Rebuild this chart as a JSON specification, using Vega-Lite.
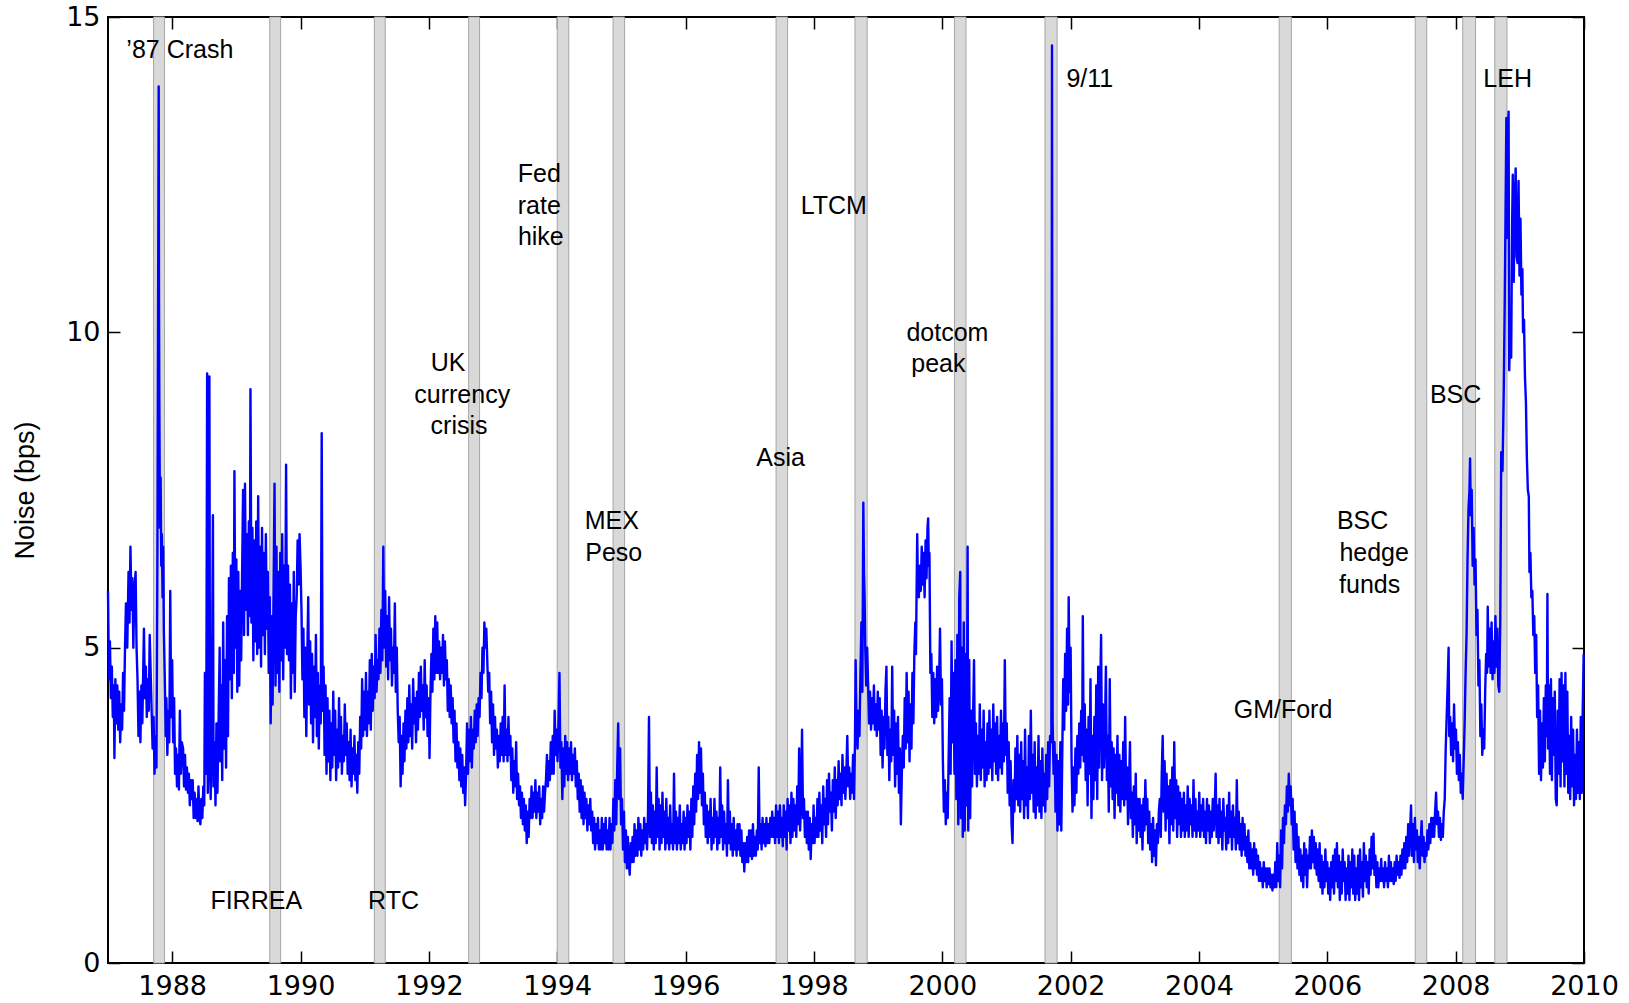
{
"$schema":"https://vega.github.io/schema/vega-lite/v6.json",
"width":1476,"height":946,
"autosize":{"type":"none"},
"padding":{"left":108,"top":17,"right":45,"bottom":40},
"background":"#ffffff",
"config":{
 "view":{"stroke":"#000000","strokeWidth":2},
 "axis":{"grid":false,"domain":false,"ticks":true,"tickColor":"#000000","tickWidth":1.5,"tickSize":-12,"labelColor":"#000000","labelFont":"DejaVu Sans","labelFontSize":27,"titleFont":"Liberation Sans","titleFontSize":27,"titleFontWeight":"normal","titleColor":"#000000","labelFlush":false,"labelOverlap":false}
},
"datasets":{
"b":[{"a":1987.71,"e":1987.88},{"a":1989.52,"e":1989.69},{"a":1991.15,"e":1991.32},{"a":1992.62,"e":1992.79},{"a":1994.00,"e":1994.18},{"a":1994.87,"e":1995.05},{"a":1997.41,"e":1997.59},{"a":1998.64,"e":1998.83},{"a":2000.19,"e":2000.37},{"a":2001.60,"e":2001.79},{"a":2005.25,"e":2005.44},{"a":2007.37,"e":2007.55},{"a":2008.11,"e":2008.31},{"a":2008.61,"e":2008.80}],
"l":[{"t":1988.12,"v":14.48,"s":"’87 Crash"},{"t":1989.31,"v":0.98,"s":"FIRREA"},{"t":1991.45,"v":0.98,"s":"RTC"},{"t":1992.30,"v":9.51,"s":"UK"},{"t":1992.52,"v":9.0,"s":"currency"},{"t":1992.47,"v":8.51,"s":"crisis"},{"t":1993.72,"v":12.51,"s":"Fed"},{"t":1993.72,"v":12.0,"s":"rate"},{"t":1993.745,"v":11.51,"s":"hike"},{"t":1994.85,"v":7.01,"s":"MEX"},{"t":1994.88,"v":6.5,"s":"Peso"},{"t":1997.48,"v":8.0,"s":"Asia"},{"t":1998.31,"v":12.0,"s":"LTCM"},{"t":2000.08,"v":9.99,"s":"dotcom"},{"t":1999.94,"v":9.5,"s":"peak"},{"t":2002.30,"v":14.01,"s":"9/11"},{"t":2005.31,"v":4.01,"s":"GM/Ford"},{"t":2006.55,"v":7.01,"s":"BSC"},{"t":2006.73,"v":6.5,"s":"hedge"},{"t":2006.66,"v":6.0,"s":"funds"},{"t":2008.0,"v":9.0,"s":"BSC"},{"t":2008.81,"v":14.01,"s":"LEH"}],
"s":[
{"t":1987.00,"v":5.9},{"t":1987.015,"v":4.5},{"t":1987.03,"v":5.1},{"t":1987.045,"v":4.2},{"t":1987.06,"v":4.7},{"t":1987.075,"v":3.9},{"t":1987.09,"v":4.4},{"t":1987.10,"v":3.25},{"t":1987.115,"v":4.5},{"t":1987.13,"v":3.8},{"t":1987.145,"v":4.4},{"t":1987.16,"v":3.7},{"t":1987.175,"v":4.3},{"t":1987.19,"v":3.5},{"t":1987.205,"v":4.1},{"t":1987.22,"v":3.7},{"t":1987.235,"v":4.6},{"t":1987.25,"v":4.0},{"t":1987.265,"v":5.0},{"t":1987.28,"v":5.7},{"t":1987.30,"v":5.0},{"t":1987.32,"v":6.2},{"t":1987.335,"v":5.4},{"t":1987.35,"v":6.6},{"t":1987.365,"v":5.6},{"t":1987.38,"v":6.1},{"t":1987.395,"v":5.0},{"t":1987.41,"v":5.9},{"t":1987.43,"v":6.2},{"t":1987.445,"v":5.0},{"t":1987.46,"v":4.5},{"t":1987.475,"v":3.6},{"t":1987.49,"v":4.3},{"t":1987.505,"v":3.5},{"t":1987.52,"v":4.4},{"t":1987.535,"v":3.8},{"t":1987.56,"v":5.3},{"t":1987.575,"v":4.2},{"t":1987.59,"v":4.7},{"t":1987.605,"v":3.9},{"t":1987.62,"v":4.5},{"t":1987.635,"v":4.0},{"t":1987.65,"v":5.2},{"t":1987.68,"v":4.0},{"t":1987.695,"v":3.4},{"t":1987.71,"v":3.9},{"t":1987.725,"v":3.0},{"t":1987.74,"v":3.6},{"t":1987.755,"v":3.1},{"t":1987.77,"v":6.5},{"t":1987.79,"v":13.9},{"t":1987.795,"v":10.5},{"t":1987.80,"v":8.9},{"t":1987.81,"v":6.9},{"t":1987.82,"v":7.7},{"t":1987.83,"v":6.3},{"t":1987.84,"v":6.8},{"t":1987.85,"v":5.8},{"t":1987.86,"v":6.6},{"t":1987.87,"v":5.3},{"t":1987.885,"v":4.5},{"t":1987.90,"v":3.6},{"t":1987.91,"v":4.2},{"t":1987.925,"v":3.3},{"t":1987.94,"v":4.0},{"t":1987.955,"v":3.5},{"t":1987.97,"v":5.9},{"t":1987.985,"v":3.9},{"t":1988.00,"v":4.8},{"t":1988.015,"v":3.5},{"t":1988.03,"v":4.2},{"t":1988.045,"v":3.0},{"t":1988.06,"v":3.4},{"t":1988.075,"v":2.8},{"t":1988.09,"v":3.3},{"t":1988.105,"v":2.75},{"t":1988.12,"v":4.0},{"t":1988.135,"v":3.0},{"t":1988.15,"v":3.5},{"t":1988.17,"v":3.4},{"t":1988.185,"v":2.8},{"t":1988.20,"v":3.3},{"t":1988.215,"v":2.75},{"t":1988.23,"v":3.1},{"t":1988.245,"v":2.7},{"t":1988.26,"v":3.0},{"t":1988.275,"v":2.5},{"t":1988.29,"v":2.9},{"t":1988.305,"v":2.6},{"t":1988.32,"v":2.9},{"t":1988.335,"v":2.3},{"t":1988.35,"v":2.7},{"t":1988.365,"v":2.3},{"t":1988.38,"v":2.6},{"t":1988.395,"v":2.25},{"t":1988.41,"v":2.8},{"t":1988.425,"v":2.3},{"t":1988.44,"v":2.2},{"t":1988.455,"v":2.6},{"t":1988.47,"v":2.3},{"t":1988.485,"v":2.8},{"t":1988.50,"v":2.5},{"t":1988.51,"v":4.6},{"t":1988.53,"v":3.0},{"t":1988.545,"v":9.35},{"t":1988.555,"v":2.7},{"t":1988.565,"v":3.3},{"t":1988.58,"v":9.3},{"t":1988.59,"v":3.3},{"t":1988.60,"v":2.6},{"t":1988.615,"v":3.4},{"t":1988.635,"v":7.1},{"t":1988.645,"v":2.8},{"t":1988.66,"v":3.5},{"t":1988.675,"v":2.5},{"t":1988.69,"v":3.8},{"t":1988.705,"v":2.7},{"t":1988.72,"v":3.6},{"t":1988.74,"v":5.0},{"t":1988.75,"v":3.2},{"t":1988.765,"v":4.4},{"t":1988.78,"v":2.9},{"t":1988.795,"v":5.4},{"t":1988.81,"v":3.4},{"t":1988.825,"v":4.8},{"t":1988.84,"v":3.1},{"t":1988.855,"v":5.5},{"t":1988.87,"v":3.6},{"t":1988.885,"v":6.1},{"t":1988.90,"v":4.5},{"t":1988.915,"v":6.3},{"t":1988.93,"v":4.2},{"t":1988.945,"v":6.5},{"t":1988.96,"v":4.6},{"t":1988.97,"v":7.8},{"t":1988.985,"v":5.0},{"t":1989.00,"v":6.4},{"t":1989.015,"v":4.3},{"t":1989.03,"v":6.2},{"t":1989.045,"v":4.4},{"t":1989.06,"v":5.9},{"t":1989.075,"v":4.8},{"t":1989.09,"v":6.2},{"t":1989.105,"v":7.5},{"t":1989.12,"v":5.2},{"t":1989.135,"v":7.6},{"t":1989.15,"v":5.6},{"t":1989.165,"v":6.8},{"t":1989.18,"v":5.2},{"t":1989.195,"v":7.0},{"t":1989.21,"v":5.5},{"t":1989.22,"v":9.1},{"t":1989.235,"v":5.4},{"t":1989.25,"v":6.9},{"t":1989.265,"v":4.8},{"t":1989.28,"v":6.7},{"t":1989.295,"v":5.1},{"t":1989.31,"v":7.0},{"t":1989.325,"v":4.9},{"t":1989.34,"v":7.4},{"t":1989.355,"v":5.0},{"t":1989.37,"v":6.6},{"t":1989.385,"v":4.7},{"t":1989.40,"v":6.9},{"t":1989.415,"v":5.2},{"t":1989.43,"v":6.5},{"t":1989.445,"v":4.9},{"t":1989.46,"v":6.8},{"t":1989.475,"v":5.3},{"t":1989.49,"v":6.2},{"t":1989.505,"v":4.6},{"t":1989.52,"v":5.8},{"t":1989.535,"v":3.8},{"t":1989.55,"v":5.5},{"t":1989.565,"v":4.1},{"t":1989.58,"v":5.9},{"t":1989.595,"v":7.6},{"t":1989.61,"v":4.4},{"t":1989.625,"v":6.6},{"t":1989.64,"v":4.6},{"t":1989.655,"v":6.2},{"t":1989.67,"v":4.3},{"t":1989.685,"v":6.5},{"t":1989.70,"v":4.8},{"t":1989.715,"v":6.8},{"t":1989.73,"v":4.5},{"t":1989.745,"v":6.3},{"t":1989.76,"v":5.0},{"t":1989.775,"v":7.9},{"t":1989.79,"v":4.9},{"t":1989.805,"v":6.3},{"t":1989.82,"v":4.8},{"t":1989.835,"v":6.0},{"t":1989.85,"v":4.2},{"t":1989.865,"v":5.7},{"t":1989.88,"v":4.6},{"t":1989.895,"v":6.2},{"t":1989.91,"v":4.3},{"t":1989.925,"v":5.5},{"t":1989.94,"v":5.8},{"t":1989.955,"v":6.7},{"t":1989.97,"v":6.0},{"t":1989.985,"v":6.8},{"t":1990.00,"v":6.3},{"t":1990.015,"v":5.6},{"t":1990.03,"v":4.5},{"t":1990.045,"v":5.3},{"t":1990.06,"v":3.9},{"t":1990.075,"v":5.0},{"t":1990.09,"v":3.6},{"t":1990.105,"v":4.8},{"t":1990.12,"v":5.8},{"t":1990.135,"v":4.1},{"t":1990.15,"v":5.1},{"t":1990.165,"v":3.8},{"t":1990.18,"v":4.9},{"t":1990.195,"v":3.5},{"t":1990.21,"v":4.7},{"t":1990.225,"v":3.9},{"t":1990.24,"v":5.2},{"t":1990.255,"v":3.6},{"t":1990.27,"v":4.6},{"t":1990.285,"v":3.4},{"t":1990.30,"v":4.4},{"t":1990.315,"v":3.8},{"t":1990.33,"v":8.4},{"t":1990.345,"v":4.0},{"t":1990.36,"v":4.7},{"t":1990.375,"v":3.3},{"t":1990.39,"v":4.4},{"t":1990.405,"v":3.0},{"t":1990.42,"v":4.2},{"t":1990.435,"v":3.2},{"t":1990.45,"v":4.0},{"t":1990.465,"v":2.9},{"t":1990.48,"v":3.8},{"t":1990.495,"v":3.1},{"t":1990.51,"v":4.3},{"t":1990.525,"v":3.3},{"t":1990.54,"v":4.0},{"t":1990.555,"v":2.9},{"t":1990.57,"v":3.7},{"t":1990.585,"v":3.1},{"t":1990.60,"v":4.2},{"t":1990.615,"v":3.2},{"t":1990.63,"v":3.9},{"t":1990.645,"v":3.0},{"t":1990.66,"v":3.6},{"t":1990.675,"v":3.2},{"t":1990.69,"v":4.1},{"t":1990.705,"v":3.3},{"t":1990.72,"v":3.8},{"t":1990.735,"v":3.0},{"t":1990.75,"v":3.5},{"t":1990.765,"v":2.9},{"t":1990.78,"v":3.7},{"t":1990.795,"v":2.8},{"t":1990.81,"v":3.4},{"t":1990.825,"v":3.0},{"t":1990.84,"v":3.6},{"t":1990.855,"v":2.9},{"t":1990.87,"v":3.3},{"t":1990.885,"v":2.7},{"t":1990.90,"v":3.5},{"t":1990.915,"v":3.0},{"t":1990.93,"v":3.9},{"t":1990.945,"v":3.4},{"t":1990.96,"v":4.5},{"t":1990.975,"v":3.6},{"t":1990.99,"v":4.3},{"t":1991.005,"v":3.7},{"t":1991.02,"v":4.6},{"t":1991.035,"v":3.6},{"t":1991.05,"v":4.3},{"t":1991.065,"v":3.8},{"t":1991.08,"v":4.8},{"t":1991.095,"v":3.7},{"t":1991.11,"v":4.9},{"t":1991.125,"v":4.0},{"t":1991.14,"v":4.7},{"t":1991.155,"v":4.2},{"t":1991.17,"v":5.2},{"t":1991.185,"v":4.3},{"t":1991.20,"v":4.8},{"t":1991.215,"v":4.5},{"t":1991.23,"v":5.3},{"t":1991.245,"v":4.6},{"t":1991.26,"v":5.6},{"t":1991.275,"v":4.8},{"t":1991.29,"v":6.6},{"t":1991.305,"v":5.0},{"t":1991.32,"v":5.9},{"t":1991.335,"v":4.7},{"t":1991.35,"v":5.5},{"t":1991.365,"v":4.5},{"t":1991.38,"v":5.8},{"t":1991.395,"v":4.8},{"t":1991.41,"v":5.3},{"t":1991.425,"v":4.4},{"t":1991.44,"v":5.0},{"t":1991.455,"v":4.6},{"t":1991.47,"v":5.7},{"t":1991.485,"v":4.3},{"t":1991.50,"v":5.0},{"t":1991.515,"v":4.0},{"t":1991.53,"v":3.5},{"t":1991.545,"v":3.9},{"t":1991.56,"v":2.8},{"t":1991.575,"v":3.6},{"t":1991.59,"v":3.0},{"t":1991.605,"v":3.8},{"t":1991.62,"v":3.2},{"t":1991.635,"v":4.0},{"t":1991.65,"v":3.4},{"t":1991.665,"v":4.2},{"t":1991.68,"v":3.5},{"t":1991.695,"v":4.4},{"t":1991.71,"v":3.6},{"t":1991.725,"v":4.1},{"t":1991.74,"v":3.4},{"t":1991.755,"v":4.5},{"t":1991.77,"v":3.8},{"t":1991.785,"v":4.2},{"t":1991.80,"v":3.5},{"t":1991.815,"v":4.3},{"t":1991.83,"v":3.7},{"t":1991.845,"v":4.6},{"t":1991.86,"v":3.9},{"t":1991.875,"v":4.7},{"t":1991.89,"v":4.0},{"t":1991.905,"v":4.4},
{"t":1991.92,"v":3.7},{"t":1991.935,"v":4.8},{"t":1991.95,"v":3.9},{"t":1991.965,"v":4.4},{"t":1991.98,"v":3.6},{"t":1992.00,"v":4.2},{"t":1992.01,"v":3.25},{"t":1992.025,"v":4.3},{"t":1992.04,"v":4.9},{"t":1992.055,"v":4.3},{"t":1992.07,"v":5.3},{"t":1992.085,"v":4.5},{"t":1992.10,"v":5.5},{"t":1992.115,"v":4.6},{"t":1992.13,"v":5.4},{"t":1992.145,"v":4.6},{"t":1992.16,"v":5.1},{"t":1992.175,"v":4.5},{"t":1992.19,"v":5.0},{"t":1992.205,"v":4.6},{"t":1992.22,"v":5.2},{"t":1992.235,"v":4.4},{"t":1992.25,"v":5.1},{"t":1992.265,"v":4.5},{"t":1992.28,"v":4.8},{"t":1992.295,"v":4.0},{"t":1992.31,"v":4.5},{"t":1992.325,"v":3.9},{"t":1992.34,"v":4.4},{"t":1992.355,"v":3.8},{"t":1992.37,"v":4.2},{"t":1992.385,"v":3.5},{"t":1992.40,"v":4.0},{"t":1992.415,"v":3.2},{"t":1992.43,"v":3.8},{"t":1992.445,"v":3.1},{"t":1992.46,"v":3.5},{"t":1992.475,"v":2.9},{"t":1992.49,"v":3.4},{"t":1992.505,"v":2.8},{"t":1992.52,"v":3.3},{"t":1992.535,"v":2.7},{"t":1992.55,"v":3.1},{"t":1992.565,"v":2.5},{"t":1992.58,"v":3.0},{"t":1992.595,"v":3.8},{"t":1992.61,"v":3.0},{"t":1992.625,"v":3.7},{"t":1992.64,"v":3.2},{"t":1992.655,"v":3.9},{"t":1992.67,"v":3.1},{"t":1992.685,"v":3.7},{"t":1992.70,"v":3.4},{"t":1992.715,"v":4.0},{"t":1992.73,"v":3.5},{"t":1992.745,"v":4.1},{"t":1992.76,"v":3.6},{"t":1992.775,"v":4.2},{"t":1992.79,"v":3.9},{"t":1992.805,"v":4.6},{"t":1992.82,"v":4.2},{"t":1992.835,"v":5.0},{"t":1992.85,"v":4.6},{"t":1992.865,"v":5.4},{"t":1992.88,"v":5.0},{"t":1992.895,"v":5.3},{"t":1992.91,"v":4.8},{"t":1992.925,"v":4.3},{"t":1992.94,"v":4.6},{"t":1992.955,"v":3.8},{"t":1992.97,"v":4.3},{"t":1992.985,"v":3.5},{"t":1993.00,"v":4.1},{"t":1993.015,"v":3.3},{"t":1993.03,"v":3.9},{"t":1993.045,"v":3.4},{"t":1993.06,"v":3.7},{"t":1993.075,"v":3.1},{"t":1993.09,"v":3.6},{"t":1993.105,"v":3.2},{"t":1993.12,"v":3.8},{"t":1993.135,"v":3.3},{"t":1993.15,"v":3.9},{"t":1993.165,"v":3.2},{"t":1993.18,"v":4.4},{"t":1993.195,"v":3.3},{"t":1993.21,"v":3.7},{"t":1993.225,"v":3.2},{"t":1993.24,"v":3.9},{"t":1993.255,"v":3.3},{"t":1993.27,"v":3.6},{"t":1993.285,"v":2.9},{"t":1993.30,"v":3.4},{"t":1993.315,"v":2.7},{"t":1993.33,"v":3.2},{"t":1993.345,"v":2.8},{"t":1993.36,"v":3.5},{"t":1993.375,"v":2.6},{"t":1993.39,"v":3.0},{"t":1993.405,"v":2.5},{"t":1993.42,"v":2.8},{"t":1993.435,"v":2.3},{"t":1993.45,"v":2.7},{"t":1993.465,"v":2.2},{"t":1993.48,"v":2.6},{"t":1993.495,"v":2.1},{"t":1993.51,"v":2.5},{"t":1993.525,"v":1.9},{"t":1993.54,"v":2.4},{"t":1993.555,"v":2.0},{"t":1993.57,"v":2.6},{"t":1993.585,"v":2.3},{"t":1993.60,"v":2.8},{"t":1993.615,"v":2.3},{"t":1993.63,"v":2.7},{"t":1993.645,"v":2.4},{"t":1993.66,"v":2.9},{"t":1993.675,"v":2.3},{"t":1993.69,"v":2.7},{"t":1993.705,"v":2.4},{"t":1993.72,"v":2.8},{"t":1993.735,"v":2.2},{"t":1993.75,"v":2.6},{"t":1993.765,"v":2.3},{"t":1993.78,"v":2.8},{"t":1993.795,"v":2.4},{"t":1993.81,"v":2.7},{"t":1993.825,"v":2.9},{"t":1993.84,"v":3.3},{"t":1993.855,"v":2.8},{"t":1993.87,"v":3.2},{"t":1993.885,"v":2.9},{"t":1993.90,"v":3.5},{"t":1993.915,"v":3.0},{"t":1993.93,"v":3.6},{"t":1993.945,"v":3.0},{"t":1993.96,"v":4.0},{"t":1993.975,"v":3.3},{"t":1993.99,"v":3.7},{"t":1994.005,"v":3.2},{"t":1994.02,"v":3.8},{"t":1994.035,"v":4.6},{"t":1994.05,"v":3.1},{"t":1994.065,"v":3.5},{"t":1994.08,"v":2.6},{"t":1994.095,"v":3.4},{"t":1994.11,"v":2.8},{"t":1994.125,"v":3.6},{"t":1994.14,"v":3.0},{"t":1994.155,"v":3.5},{"t":1994.17,"v":2.9},{"t":1994.185,"v":3.4},{"t":1994.20,"v":3.0},{"t":1994.215,"v":3.5},{"t":1994.23,"v":2.9},{"t":1994.245,"v":3.3},{"t":1994.26,"v":3.0},{"t":1994.275,"v":3.4},{"t":1994.29,"v":2.8},{"t":1994.305,"v":3.2},{"t":1994.32,"v":2.6},{"t":1994.335,"v":3.0},{"t":1994.35,"v":2.4},{"t":1994.365,"v":2.9},{"t":1994.38,"v":2.3},{"t":1994.395,"v":2.8},{"t":1994.41,"v":2.2},{"t":1994.425,"v":2.7},{"t":1994.44,"v":2.3},{"t":1994.455,"v":2.6},{"t":1994.47,"v":2.1},{"t":1994.485,"v":2.5},{"t":1994.50,"v":2.2},{"t":1994.515,"v":2.6},{"t":1994.53,"v":2.1},{"t":1994.545,"v":2.4},{"t":1994.56,"v":1.9},{"t":1994.575,"v":2.3},{"t":1994.59,"v":1.8},{"t":1994.605,"v":2.2},{"t":1994.62,"v":1.9},{"t":1994.635,"v":2.3},{"t":1994.65,"v":1.8},{"t":1994.665,"v":2.1},{"t":1994.68,"v":1.8},{"t":1994.695,"v":2.3},{"t":1994.71,"v":1.8},{"t":1994.725,"v":2.2},{"t":1994.74,"v":1.9},{"t":1994.755,"v":2.3},{"t":1994.77,"v":1.8},{"t":1994.785,"v":2.1},{"t":1994.80,"v":1.8},{"t":1994.815,"v":2.3},{"t":1994.83,"v":1.8},{"t":1994.845,"v":2.2},{"t":1994.86,"v":1.9},{"t":1994.875,"v":2.6},{"t":1994.89,"v":2.1},{"t":1994.905,"v":2.9},{"t":1994.92,"v":2.2},{"t":1994.935,"v":3.1},{"t":1994.95,"v":3.8},{"t":1994.965,"v":2.6},{"t":1994.98,"v":3.4},{"t":1994.995,"v":2.2},{"t":1995.01,"v":2.6},{"t":1995.025,"v":1.8},{"t":1995.04,"v":2.4},{"t":1995.055,"v":1.6},{"t":1995.07,"v":2.1},{"t":1995.085,"v":1.5},{"t":1995.10,"v":2.0},{"t":1995.115,"v":1.6},{"t":1995.13,"v":1.4},{"t":1995.145,"v":1.9},{"t":1995.16,"v":1.6},{"t":1995.175,"v":2.0},{"t":1995.19,"v":1.6},{"t":1995.205,"v":2.2},{"t":1995.22,"v":1.7},{"t":1995.235,"v":2.1},{"t":1995.25,"v":1.7},{"t":1995.265,"v":2.3},{"t":1995.28,"v":1.8},{"t":1995.295,"v":2.2},{"t":1995.31,"v":1.7},{"t":1995.325,"v":2.1},{"t":1995.34,"v":1.8},{"t":1995.355,"v":2.3},{"t":1995.37,"v":1.9},{"t":1995.385,"v":2.2},{"t":1995.40,"v":1.8},{"t":1995.415,"v":2.4},{"t":1995.43,"v":3.9},{"t":1995.445,"v":2.0},{"t":1995.46,"v":2.7},{"t":1995.475,"v":1.9},{"t":1995.49,"v":2.5},{"t":1995.505,"v":1.8},{"t":1995.52,"v":2.4},{"t":1995.535,"v":1.9},{"t":1995.55,"v":3.1},{"t":1995.565,"v":2.0},{"t":1995.58,"v":2.6},{"t":1995.595,"v":1.8},{"t":1995.61,"v":2.5},{"t":1995.625,"v":1.9},{"t":1995.64,"v":2.7},{"t":1995.655,"v":2.0},{"t":1995.67,"v":2.4},{"t":1995.685,"v":1.8},{"t":1995.70,"v":2.6},{"t":1995.715,"v":1.9},{"t":1995.73,"v":2.3},{"t":1995.745,"v":1.8},{"t":1995.76,"v":2.5},{"t":1995.775,"v":1.9},{"t":1995.79,"v":2.2},{"t":1995.805,"v":1.8},{"t":1995.82,"v":3.0},{"t":1995.835,"v":1.9},{"t":1995.85,"v":2.4},{"t":1995.865,"v":1.8},{"t":1995.88,"v":2.3},{"t":1995.895,"v":1.9},{"t":1995.91,"v":2.5},{"t":1995.925,"v":1.8},{"t":1995.94,"v":2.2},{"t":1995.955,"v":1.9},{"t":1995.97,"v":2.4},{"t":1995.985,"v":1.8},{"t":1996.00,"v":2.3},{"t":1996.015,"v":1.9},{"t":1996.03,"v":2.5},{"t":1996.045,"v":2.0},{"t":1996.06,"v":2.4},{"t":1996.075,"v":1.8},{"t":1996.09,"v":2.6},{"t":1996.105,"v":2.0},{"t":1996.12,"v":2.8},{"t":1996.135,"v":2.2},{"t":1996.15,"v":3.0},{"t":1996.165,"v":2.4},{"t":1996.18,"v":3.3},{"t":1996.195,"v":2.6},{"t":1996.21,"v":3.5},{"t":1996.225,"v":2.7},{"t":1996.24,"v":3.4},{"t":1996.255,"v":2.5},{"t":1996.27,"v":3.0},{"t":1996.285,"v":2.2},{"t":1996.30,"v":2.7},{"t":1996.315,"v":2.0},{"t":1996.33,"v":2.5},{"t":1996.345,"v":1.9},{"t":1996.36,"v":2.4},{"t":1996.375,"v":2.0},{"t":1996.39,"v":2.6},{"t":1996.405,"v":1.8},{"t":1996.42,"v":2.3},{"t":1996.435,"v":1.9},{"t":1996.45,"v":2.6},{"t":1996.465,"v":2.0},{"t":1996.48,"v":2.4},{"t":1996.495,"v":1.8},{"t":1996.51,"v":2.3},{"t":1996.525,"v":1.9},{"t":1996.54,"v":3.1},{"t":1996.555,"v":2.0},{"t":1996.57,"v":2.5},{"t":1996.585,"v":1.8},{"t":1996.60,"v":2.4},{"t":1996.615,"v":1.9},{"t":1996.63,"v":2.2},{"t":1996.645,"v":1.7},{"t":1996.66,"v":2.9},{"t":1996.675,"v":1.9},{"t":1996.69,"v":2.4},{"t":1996.705,"v":1.8},{"t":1996.72,"v":2.2},{"t":1996.735,"v":1.7},{"t":1996.75,"v":2.3},{"t":1996.765,"v":1.8},{"t":1996.78,"v":2.1},{"t":1996.795,"v":1.7},{"t":1996.81,"v":2.2},{"t":1996.825,"v":1.8},
{"t":1996.84,"v":2.2},{"t":1996.855,"v":1.7},{"t":1996.87,"v":2.1},{"t":1996.885,"v":1.6},{"t":1996.90,"v":1.9},{"t":1996.915,"v":1.45},{"t":1996.93,"v":1.9},{"t":1996.945,"v":1.6},{"t":1996.96,"v":2.0},{"t":1996.975,"v":1.6},{"t":1996.99,"v":2.1},{"t":1997.005,"v":1.7},{"t":1997.02,"v":2.1},{"t":1997.035,"v":1.65},{"t":1997.05,"v":2.2},{"t":1997.065,"v":1.7},{"t":1997.08,"v":2.0},{"t":1997.095,"v":1.7},{"t":1997.11,"v":2.1},{"t":1997.125,"v":1.8},{"t":1997.14,"v":3.1},{"t":1997.155,"v":1.9},{"t":1997.17,"v":2.2},{"t":1997.185,"v":1.8},{"t":1997.20,"v":2.3},{"t":1997.215,"v":1.9},{"t":1997.23,"v":2.2},{"t":1997.245,"v":1.85},{"t":1997.26,"v":2.3},{"t":1997.275,"v":1.9},{"t":1997.29,"v":2.2},{"t":1997.305,"v":1.9},{"t":1997.32,"v":2.3},{"t":1997.335,"v":2.0},{"t":1997.35,"v":2.4},{"t":1997.365,"v":2.0},{"t":1997.38,"v":2.3},{"t":1997.395,"v":1.9},{"t":1997.41,"v":2.5},{"t":1997.425,"v":2.0},{"t":1997.44,"v":2.4},{"t":1997.455,"v":1.9},{"t":1997.47,"v":2.5},{"t":1997.485,"v":2.0},{"t":1997.50,"v":2.3},{"t":1997.515,"v":1.85},{"t":1997.53,"v":2.5},{"t":1997.545,"v":2.0},{"t":1997.56,"v":2.4},{"t":1997.575,"v":1.8},{"t":1997.59,"v":2.6},{"t":1997.605,"v":2.1},{"t":1997.62,"v":2.5},{"t":1997.635,"v":1.9},{"t":1997.65,"v":2.7},{"t":1997.665,"v":2.0},{"t":1997.68,"v":2.6},{"t":1997.695,"v":2.1},{"t":1997.71,"v":2.5},{"t":1997.725,"v":2.0},{"t":1997.74,"v":2.8},{"t":1997.755,"v":2.2},{"t":1997.77,"v":3.4},{"t":1997.785,"v":2.1},{"t":1997.80,"v":2.6},{"t":1997.815,"v":3.7},{"t":1997.83,"v":2.3},{"t":1997.845,"v":2.6},{"t":1997.86,"v":2.0},{"t":1997.875,"v":2.4},{"t":1997.89,"v":1.9},{"t":1997.905,"v":2.4},{"t":1997.92,"v":1.8},{"t":1997.935,"v":2.3},{"t":1997.95,"v":1.65},{"t":1997.965,"v":2.2},{"t":1997.98,"v":1.9},{"t":1997.995,"v":2.5},{"t":1998.01,"v":1.9},{"t":1998.025,"v":2.3},{"t":1998.04,"v":2.0},{"t":1998.055,"v":2.6},{"t":1998.07,"v":2.0},{"t":1998.085,"v":2.7},{"t":1998.10,"v":2.1},{"t":1998.115,"v":2.5},{"t":1998.13,"v":1.9},{"t":1998.145,"v":2.8},{"t":1998.16,"v":2.2},{"t":1998.175,"v":2.6},{"t":1998.19,"v":2.0},{"t":1998.205,"v":2.9},{"t":1998.22,"v":2.2},{"t":1998.235,"v":3.0},{"t":1998.25,"v":2.4},{"t":1998.265,"v":2.7},{"t":1998.28,"v":2.1},{"t":1998.295,"v":2.9},{"t":1998.31,"v":2.4},{"t":1998.325,"v":3.1},{"t":1998.34,"v":2.3},{"t":1998.355,"v":2.9},{"t":1998.37,"v":2.5},{"t":1998.385,"v":3.2},{"t":1998.40,"v":2.6},{"t":1998.415,"v":3.0},{"t":1998.43,"v":2.5},{"t":1998.445,"v":3.3},{"t":1998.46,"v":2.7},{"t":1998.475,"v":3.1},{"t":1998.49,"v":2.6},{"t":1998.505,"v":3.0},{"t":1998.52,"v":3.6},{"t":1998.535,"v":2.8},{"t":1998.55,"v":3.1},{"t":1998.565,"v":2.6},{"t":1998.58,"v":3.0},{"t":1998.595,"v":2.7},{"t":1998.61,"v":3.3},{"t":1998.625,"v":2.6},{"t":1998.64,"v":3.5},{"t":1998.65,"v":4.8},{"t":1998.665,"v":3.7},{"t":1998.68,"v":3.4},{"t":1998.695,"v":4.0},{"t":1998.71,"v":3.6},{"t":1998.725,"v":4.6},{"t":1998.74,"v":5.4},{"t":1998.755,"v":4.3},{"t":1998.77,"v":7.3},{"t":1998.78,"v":6.2},{"t":1998.79,"v":5.8},{"t":1998.80,"v":5.0},{"t":1998.815,"v":4.4},{"t":1998.83,"v":5.0},{"t":1998.845,"v":4.4},{"t":1998.86,"v":3.8},{"t":1998.875,"v":4.3},{"t":1998.89,"v":3.7},{"t":1998.905,"v":4.2},{"t":1998.92,"v":3.8},{"t":1998.935,"v":4.4},{"t":1998.95,"v":3.7},{"t":1998.965,"v":4.1},{"t":1998.98,"v":3.6},{"t":1998.995,"v":4.3},{"t":1999.01,"v":3.7},{"t":1999.025,"v":4.2},{"t":1999.04,"v":3.3},{"t":1999.055,"v":4.0},{"t":1999.07,"v":3.1},{"t":1999.085,"v":3.9},{"t":1999.10,"v":3.4},{"t":1999.115,"v":4.3},{"t":1999.13,"v":4.7},{"t":1999.145,"v":3.3},{"t":1999.16,"v":3.9},{"t":1999.175,"v":2.9},{"t":1999.19,"v":3.7},{"t":1999.205,"v":3.2},{"t":1999.22,"v":4.7},{"t":1999.235,"v":3.3},{"t":1999.25,"v":4.0},{"t":1999.265,"v":2.8},{"t":1999.28,"v":3.8},{"t":1999.295,"v":3.0},{"t":1999.31,"v":3.9},{"t":1999.325,"v":2.7},{"t":1999.34,"v":3.4},{"t":1999.355,"v":2.2},{"t":1999.37,"v":3.0},{"t":1999.385,"v":3.6},{"t":1999.40,"v":3.1},{"t":1999.415,"v":4.2},{"t":1999.43,"v":3.4},{"t":1999.445,"v":4.6},{"t":1999.46,"v":3.5},{"t":1999.475,"v":4.3},{"t":1999.49,"v":3.2},{"t":1999.505,"v":4.1},{"t":1999.52,"v":3.4},{"t":1999.535,"v":4.6},{"t":1999.55,"v":3.8},{"t":1999.565,"v":4.9},{"t":1999.58,"v":5.4},{"t":1999.59,"v":4.9},{"t":1999.60,"v":5.9},{"t":1999.61,"v":6.8},{"t":1999.62,"v":6.0},{"t":1999.635,"v":5.8},{"t":1999.65,"v":6.3},{"t":1999.665,"v":5.9},{"t":1999.68,"v":6.6},{"t":1999.695,"v":6.0},{"t":1999.71,"v":6.5},{"t":1999.725,"v":5.8},{"t":1999.74,"v":6.7},{"t":1999.755,"v":6.1},{"t":1999.77,"v":6.9},{"t":1999.78,"v":7.05},{"t":1999.79,"v":6.3},{"t":1999.80,"v":6.5},{"t":1999.815,"v":4.6},{"t":1999.83,"v":4.9},{"t":1999.845,"v":3.9},{"t":1999.86,"v":4.6},{"t":1999.875,"v":3.8},{"t":1999.89,"v":4.5},{"t":1999.905,"v":3.9},{"t":1999.92,"v":4.7},{"t":1999.935,"v":4.0},{"t":1999.95,"v":4.4},{"t":1999.965,"v":5.3},{"t":1999.98,"v":4.1},{"t":1999.995,"v":4.5},{"t":2000.01,"v":3.2},{"t":2000.025,"v":2.4},{"t":2000.04,"v":2.9},{"t":2000.055,"v":2.2},{"t":2000.07,"v":2.7},{"t":2000.085,"v":2.3},{"t":2000.10,"v":3.3},{"t":2000.115,"v":4.2},{"t":2000.13,"v":3.0},{"t":2000.145,"v":5.1},{"t":2000.16,"v":3.5},{"t":2000.175,"v":4.6},{"t":2000.19,"v":3.0},{"t":2000.205,"v":4.8},{"t":2000.22,"v":2.6},{"t":2000.235,"v":5.2},{"t":2000.25,"v":2.2},{"t":2000.265,"v":5.8},{"t":2000.28,"v":6.2},{"t":2000.29,"v":2.3},{"t":2000.305,"v":5.0},{"t":2000.32,"v":2.0},{"t":2000.335,"v":5.4},{"t":2000.35,"v":2.1},{"t":2000.365,"v":4.9},{"t":2000.38,"v":2.5},{"t":2000.395,"v":6.6},{"t":2000.405,"v":2.1},{"t":2000.42,"v":4.8},{"t":2000.435,"v":2.3},{"t":2000.45,"v":4.0},{"t":2000.465,"v":2.8},{"t":2000.48,"v":3.9},{"t":2000.495,"v":4.8},{"t":2000.51,"v":3.0},{"t":2000.525,"v":3.8},{"t":2000.54,"v":2.8},{"t":2000.555,"v":3.6},{"t":2000.57,"v":3.0},{"t":2000.585,"v":4.1},{"t":2000.60,"v":2.9},{"t":2000.615,"v":3.7},{"t":2000.63,"v":3.1},{"t":2000.645,"v":4.0},{"t":2000.66,"v":2.8},{"t":2000.675,"v":3.5},{"t":2000.69,"v":2.9},{"t":2000.705,"v":3.8},{"t":2000.72,"v":3.0},{"t":2000.735,"v":4.0},{"t":2000.75,"v":3.1},{"t":2000.765,"v":3.7},{"t":2000.78,"v":2.9},{"t":2000.795,"v":4.1},{"t":2000.81,"v":3.2},{"t":2000.825,"v":3.8},{"t":2000.84,"v":3.0},{"t":2000.855,"v":3.9},{"t":2000.87,"v":2.9},{"t":2000.885,"v":3.6},{"t":2000.90,"v":3.1},{"t":2000.915,"v":4.0},{"t":2000.93,"v":3.0},{"t":2000.945,"v":3.8},{"t":2000.96,"v":3.2},{"t":2000.975,"v":4.8},{"t":2000.99,"v":3.3},{"t":2001.005,"v":3.8},{"t":2001.02,"v":2.7},{"t":2001.035,"v":3.5},{"t":2001.05,"v":2.5},{"t":2001.065,"v":3.2},{"t":2001.08,"v":2.2},{"t":2001.095,"v":1.9},{"t":2001.11,"v":2.9},{"t":2001.125,"v":2.4},{"t":2001.14,"v":3.4},{"t":2001.155,"v":2.6},{"t":2001.17,"v":3.6},{"t":2001.185,"v":2.5},{"t":2001.20,"v":3.3},{"t":2001.215,"v":2.4},{"t":2001.23,"v":3.5},{"t":2001.245,"v":2.6},{"t":2001.26,"v":3.2},{"t":2001.275,"v":2.3},{"t":2001.29,"v":3.7},{"t":2001.305,"v":2.5},{"t":2001.32,"v":3.1},{"t":2001.335,"v":2.3},{"t":2001.35,"v":3.6},{"t":2001.365,"v":2.6},{"t":2001.38,"v":4.0},{"t":2001.395,"v":2.7},{"t":2001.41,"v":3.3},{"t":2001.425,"v":2.4},{"t":2001.44,"v":3.5},{"t":2001.455,"v":2.3},{"t":2001.47,"v":3.1},{"t":2001.485,"v":2.5},{"t":2001.50,"v":3.6},{"t":2001.515,"v":2.4},{"t":2001.53,"v":3.2},{"t":2001.545,"v":2.3},{"t":2001.56,"v":3.4},{"t":2001.575,"v":2.5},{"t":2001.59,"v":3.0},{"t":2001.605,"v":2.4},{"t":2001.62,"v":3.3},{"t":2001.635,"v":2.6},{"t":2001.65,"v":3.5},{"t":2001.665,"v":2.8},{"t":2001.68,"v":3.6},{"t":2001.70,"v":3.5},{"t":2001.71,"v":14.55},{"t":2001.72,"v":3.8},{"t":2001.735,"v":3.0},{"t":2001.75,"v":3.5},{"t":2001.765,"v":2.4},{"t":2001.78,"v":3.3},{"t":2001.795,"v":2.1},{"t":2001.81,"v":3.2},
{"t":2001.825,"v":2.2},{"t":2001.84,"v":3.5},{"t":2001.855,"v":2.1},{"t":2001.87,"v":3.3},{"t":2001.885,"v":4.5},{"t":2001.90,"v":3.7},{"t":2001.915,"v":4.9},{"t":2001.93,"v":4.0},{"t":2001.945,"v":5.3},{"t":2001.96,"v":4.1},{"t":2001.97,"v":5.8},{"t":2001.985,"v":4.3},{"t":2002.00,"v":5.0},{"t":2002.015,"v":3.2},{"t":2002.03,"v":2.4},{"t":2002.045,"v":3.1},{"t":2002.06,"v":2.5},{"t":2002.075,"v":3.4},{"t":2002.09,"v":2.7},{"t":2002.105,"v":3.6},{"t":2002.12,"v":3.0},{"t":2002.135,"v":3.8},{"t":2002.15,"v":3.1},{"t":2002.165,"v":4.0},{"t":2002.18,"v":3.3},{"t":2002.19,"v":5.5},{"t":2002.205,"v":3.2},{"t":2002.22,"v":4.1},{"t":2002.235,"v":2.9},{"t":2002.25,"v":3.7},{"t":2002.265,"v":2.5},{"t":2002.28,"v":3.9},{"t":2002.295,"v":3.0},{"t":2002.31,"v":4.5},{"t":2002.325,"v":2.3},{"t":2002.34,"v":3.6},{"t":2002.355,"v":2.6},{"t":2002.37,"v":3.9},{"t":2002.385,"v":2.9},{"t":2002.40,"v":4.4},{"t":2002.415,"v":2.6},{"t":2002.43,"v":4.7},{"t":2002.445,"v":3.1},{"t":2002.46,"v":4.2},{"t":2002.475,"v":5.2},{"t":2002.49,"v":2.9},{"t":2002.505,"v":4.1},{"t":2002.52,"v":3.1},{"t":2002.535,"v":3.7},{"t":2002.55,"v":4.7},{"t":2002.565,"v":2.9},{"t":2002.58,"v":3.6},{"t":2002.595,"v":2.4},{"t":2002.61,"v":4.5},{"t":2002.625,"v":2.8},{"t":2002.64,"v":3.5},{"t":2002.655,"v":2.6},{"t":2002.67,"v":3.4},{"t":2002.685,"v":2.3},{"t":2002.70,"v":3.3},{"t":2002.715,"v":2.7},{"t":2002.73,"v":3.6},{"t":2002.745,"v":2.5},{"t":2002.76,"v":3.3},{"t":2002.775,"v":2.4},{"t":2002.79,"v":3.2},{"t":2002.805,"v":2.6},{"t":2002.82,"v":3.5},{"t":2002.835,"v":2.5},{"t":2002.85,"v":3.9},{"t":2002.865,"v":2.6},{"t":2002.88,"v":3.1},{"t":2002.895,"v":2.2},{"t":2002.91,"v":2.8},{"t":2002.925,"v":3.5},{"t":2002.94,"v":2.3},{"t":2002.955,"v":2.7},{"t":2002.97,"v":2.0},{"t":2002.985,"v":2.8},{"t":2003.00,"v":2.2},{"t":2003.015,"v":3.0},{"t":2003.03,"v":1.9},{"t":2003.045,"v":2.6},{"t":2003.06,"v":2.1},{"t":2003.075,"v":2.6},{"t":2003.09,"v":2.0},{"t":2003.105,"v":2.5},{"t":2003.12,"v":1.8},{"t":2003.135,"v":2.6},{"t":2003.15,"v":2.1},{"t":2003.165,"v":2.9},{"t":2003.18,"v":2.2},{"t":2003.195,"v":2.6},{"t":2003.21,"v":1.9},{"t":2003.225,"v":2.4},{"t":2003.24,"v":1.8},{"t":2003.255,"v":2.2},{"t":2003.27,"v":1.6},{"t":2003.285,"v":2.3},{"t":2003.30,"v":1.7},{"t":2003.315,"v":2.1},{"t":2003.33,"v":1.55},{"t":2003.345,"v":2.2},{"t":2003.36,"v":1.9},{"t":2003.375,"v":2.4},{"t":2003.39,"v":2.6},{"t":2003.405,"v":2.0},{"t":2003.42,"v":3.0},{"t":2003.435,"v":3.6},{"t":2003.45,"v":2.4},{"t":2003.465,"v":3.2},{"t":2003.48,"v":2.1},{"t":2003.495,"v":3.0},{"t":2003.51,"v":2.3},{"t":2003.525,"v":2.8},{"t":2003.54,"v":1.9},{"t":2003.555,"v":2.9},{"t":2003.57,"v":2.2},{"t":2003.585,"v":3.1},{"t":2003.60,"v":2.1},{"t":2003.615,"v":3.5},{"t":2003.63,"v":2.3},{"t":2003.645,"v":2.9},{"t":2003.66,"v":2.0},{"t":2003.675,"v":2.8},{"t":2003.69,"v":2.2},{"t":2003.705,"v":2.7},{"t":2003.72,"v":2.0},{"t":2003.735,"v":2.6},{"t":2003.75,"v":2.1},{"t":2003.765,"v":2.7},{"t":2003.78,"v":2.0},{"t":2003.795,"v":2.5},{"t":2003.81,"v":2.1},{"t":2003.825,"v":2.8},{"t":2003.84,"v":2.0},{"t":2003.855,"v":2.6},{"t":2003.87,"v":2.2},{"t":2003.885,"v":2.5},{"t":2003.90,"v":2.0},{"t":2003.915,"v":2.9},{"t":2003.93,"v":2.1},{"t":2003.945,"v":2.6},{"t":2003.96,"v":2.0},{"t":2003.975,"v":2.4},{"t":2003.99,"v":2.1},{"t":2004.005,"v":2.7},{"t":2004.02,"v":2.0},{"t":2004.035,"v":2.5},{"t":2004.05,"v":2.1},{"t":2004.065,"v":2.6},{"t":2004.08,"v":2.0},{"t":2004.095,"v":2.4},{"t":2004.11,"v":1.9},{"t":2004.125,"v":2.6},{"t":2004.14,"v":2.1},{"t":2004.155,"v":2.5},{"t":2004.17,"v":1.9},{"t":2004.185,"v":2.4},{"t":2004.20,"v":2.0},{"t":2004.215,"v":2.6},{"t":2004.23,"v":2.1},{"t":2004.245,"v":2.4},{"t":2004.26,"v":3.0},{"t":2004.275,"v":2.0},{"t":2004.29,"v":2.5},{"t":2004.305,"v":1.9},{"t":2004.32,"v":2.6},{"t":2004.335,"v":2.0},{"t":2004.35,"v":2.4},{"t":2004.365,"v":1.8},{"t":2004.38,"v":2.6},{"t":2004.395,"v":2.1},{"t":2004.41,"v":2.3},{"t":2004.425,"v":1.8},{"t":2004.44,"v":2.5},{"t":2004.455,"v":1.9},{"t":2004.47,"v":2.7},{"t":2004.485,"v":2.0},{"t":2004.50,"v":2.4},{"t":2004.515,"v":1.8},{"t":2004.53,"v":2.5},{"t":2004.545,"v":2.0},{"t":2004.56,"v":2.3},{"t":2004.575,"v":1.8},{"t":2004.59,"v":2.9},{"t":2004.605,"v":1.9},{"t":2004.62,"v":2.4},{"t":2004.635,"v":1.8},{"t":2004.65,"v":2.2},{"t":2004.665,"v":1.7},{"t":2004.68,"v":2.3},{"t":2004.695,"v":1.8},{"t":2004.71,"v":2.2},{"t":2004.725,"v":1.7},{"t":2004.74,"v":2.0},{"t":2004.755,"v":1.6},{"t":2004.77,"v":2.1},{"t":2004.785,"v":1.5},{"t":2004.80,"v":1.9},{"t":2004.815,"v":1.5},{"t":2004.83,"v":1.8},{"t":2004.845,"v":1.4},{"t":2004.86,"v":1.9},{"t":2004.875,"v":1.5},{"t":2004.89,"v":1.8},{"t":2004.905,"v":1.4},{"t":2004.92,"v":1.7},{"t":2004.935,"v":1.3},{"t":2004.95,"v":1.6},{"t":2004.965,"v":1.3},{"t":2004.98,"v":1.5},{"t":2004.995,"v":1.2},{"t":2005.01,"v":1.6},{"t":2005.025,"v":1.3},{"t":2005.04,"v":1.5},{"t":2005.055,"v":1.2},{"t":2005.07,"v":1.5},{"t":2005.085,"v":1.25},{"t":2005.10,"v":1.5},{"t":2005.115,"v":1.2},{"t":2005.13,"v":1.4},{"t":2005.145,"v":1.15},{"t":2005.16,"v":1.4},{"t":2005.175,"v":1.2},{"t":2005.19,"v":1.6},{"t":2005.205,"v":1.2},{"t":2005.22,"v":1.9},{"t":2005.235,"v":1.3},{"t":2005.25,"v":1.7},{"t":2005.265,"v":1.2},{"t":2005.28,"v":2.1},{"t":2005.295,"v":1.5},{"t":2005.31,"v":2.3},{"t":2005.325,"v":1.9},{"t":2005.34,"v":2.5},{"t":2005.355,"v":2.2},{"t":2005.37,"v":2.8},{"t":2005.385,"v":2.4},{"t":2005.40,"v":3.0},{"t":2005.415,"v":2.5},{"t":2005.43,"v":2.8},{"t":2005.445,"v":2.2},{"t":2005.46,"v":2.6},{"t":2005.475,"v":1.8},{"t":2005.49,"v":2.4},{"t":2005.505,"v":1.6},{"t":2005.52,"v":2.2},{"t":2005.535,"v":1.5},{"t":2005.55,"v":2.0},{"t":2005.565,"v":1.4},{"t":2005.58,"v":1.8},{"t":2005.595,"v":1.3},{"t":2005.61,"v":1.7},{"t":2005.625,"v":1.2},{"t":2005.64,"v":1.9},{"t":2005.655,"v":1.4},{"t":2005.67,"v":1.8},{"t":2005.685,"v":1.2},{"t":2005.70,"v":1.7},{"t":2005.715,"v":1.5},{"t":2005.73,"v":2.0},{"t":2005.745,"v":1.5},{"t":2005.76,"v":2.1},{"t":2005.775,"v":1.6},{"t":2005.79,"v":2.0},{"t":2005.805,"v":1.5},{"t":2005.82,"v":1.9},{"t":2005.835,"v":1.4},{"t":2005.85,"v":1.8},
{"t":2005.865,"v":1.3},{"t":2005.88,"v":1.9},{"t":2005.895,"v":1.2},{"t":2005.91,"v":1.7},{"t":2005.925,"v":1.1},{"t":2005.94,"v":1.6},{"t":2005.955,"v":1.2},{"t":2005.97,"v":1.8},{"t":2005.985,"v":1.3},{"t":2006.00,"v":1.6},{"t":2006.015,"v":1.1},{"t":2006.03,"v":1.5},{"t":2006.045,"v":1.0},{"t":2006.06,"v":1.6},{"t":2006.075,"v":1.2},{"t":2006.09,"v":1.7},{"t":2006.105,"v":1.1},{"t":2006.12,"v":1.8},{"t":2006.135,"v":1.3},{"t":2006.15,"v":1.9},{"t":2006.165,"v":1.2},{"t":2006.18,"v":1.7},{"t":2006.195,"v":1.0},{"t":2006.21,"v":1.6},{"t":2006.225,"v":1.1},{"t":2006.24,"v":1.8},{"t":2006.255,"v":1.3},{"t":2006.27,"v":1.6},{"t":2006.285,"v":1.0},{"t":2006.30,"v":1.5},{"t":2006.315,"v":1.1},{"t":2006.33,"v":1.7},{"t":2006.345,"v":1.0},{"t":2006.36,"v":1.6},{"t":2006.375,"v":1.2},{"t":2006.39,"v":1.8},{"t":2006.405,"v":1.1},{"t":2006.42,"v":1.7},{"t":2006.435,"v":1.0},{"t":2006.45,"v":1.5},{"t":2006.465,"v":1.1},{"t":2006.48,"v":1.7},{"t":2006.495,"v":1.0},{"t":2006.51,"v":1.8},{"t":2006.525,"v":1.2},{"t":2006.54,"v":1.6},{"t":2006.555,"v":1.05},{"t":2006.57,"v":1.9},{"t":2006.585,"v":1.3},{"t":2006.60,"v":1.7},{"t":2006.615,"v":1.2},{"t":2006.63,"v":1.6},{"t":2006.645,"v":1.1},{"t":2006.66,"v":1.8},{"t":2006.675,"v":1.4},{"t":2006.69,"v":2.0},{"t":2006.705,"v":1.5},{"t":2006.72,"v":2.05},{"t":2006.735,"v":1.4},{"t":2006.75,"v":1.7},{"t":2006.765,"v":1.2},{"t":2006.78,"v":1.6},{"t":2006.795,"v":1.2},{"t":2006.81,"v":1.5},{"t":2006.825,"v":1.3},{"t":2006.84,"v":1.65},{"t":2006.855,"v":1.3},{"t":2006.87,"v":1.5},{"t":2006.885,"v":1.2},{"t":2006.90,"v":1.6},{"t":2006.915,"v":1.3},{"t":2006.93,"v":1.5},{"t":2006.945,"v":1.2},{"t":2006.96,"v":1.7},{"t":2006.975,"v":1.3},{"t":2006.99,"v":1.6},{"t":2007.005,"v":1.3},{"t":2007.02,"v":1.5},{"t":2007.035,"v":1.25},{"t":2007.05,"v":1.6},{"t":2007.065,"v":1.3},{"t":2007.08,"v":1.7},{"t":2007.095,"v":1.4},{"t":2007.11,"v":1.6},{"t":2007.125,"v":1.35},{"t":2007.14,"v":1.7},{"t":2007.155,"v":1.4},{"t":2007.17,"v":1.8},{"t":2007.185,"v":1.5},{"t":2007.20,"v":1.9},{"t":2007.215,"v":1.5},{"t":2007.23,"v":2.0},{"t":2007.245,"v":1.6},{"t":2007.26,"v":2.2},{"t":2007.275,"v":1.7},{"t":2007.29,"v":2.1},{"t":2007.305,"v":2.5},{"t":2007.32,"v":1.7},{"t":2007.335,"v":2.2},{"t":2007.35,"v":1.6},{"t":2007.365,"v":2.3},{"t":2007.38,"v":1.8},{"t":2007.395,"v":2.1},{"t":2007.41,"v":1.6},{"t":2007.425,"v":2.0},{"t":2007.44,"v":1.5},{"t":2007.455,"v":1.9},{"t":2007.47,"v":2.25},{"t":2007.485,"v":1.7},{"t":2007.50,"v":2.0},{"t":2007.515,"v":1.6},{"t":2007.53,"v":1.9},{"t":2007.545,"v":1.7},{"t":2007.56,"v":2.1},{"t":2007.575,"v":1.8},{"t":2007.59,"v":2.2},{"t":2007.605,"v":1.9},{"t":2007.62,"v":2.3},{"t":2007.635,"v":2.0},{"t":2007.65,"v":2.3},{"t":2007.665,"v":2.0},{"t":2007.68,"v":2.4},{"t":2007.695,"v":2.7},{"t":2007.71,"v":2.2},{"t":2007.725,"v":2.4},{"t":2007.74,"v":2.0},{"t":2007.755,"v":2.3},{"t":2007.77,"v":1.95},{"t":2007.785,"v":2.2},{"t":2007.80,"v":2.0},{"t":2007.815,"v":2.4},{"t":2007.83,"v":2.6},{"t":2007.845,"v":3.4},{"t":2007.86,"v":3.9},{"t":2007.875,"v":4.4},{"t":2007.89,"v":5.0},{"t":2007.90,"v":3.6},{"t":2007.915,"v":3.9},{"t":2007.93,"v":3.3},{"t":2007.945,"v":3.8},{"t":2007.96,"v":3.2},{"t":2007.975,"v":4.1},{"t":2007.99,"v":3.4},{"t":2008.005,"v":3.7},{"t":2008.02,"v":3.0},{"t":2008.035,"v":3.5},{"t":2008.05,"v":2.9},{"t":2008.065,"v":3.3},{"t":2008.08,"v":2.7},{"t":2008.095,"v":3.0},{"t":2008.11,"v":2.6},{"t":2008.125,"v":3.2},{"t":2008.14,"v":3.8},{"t":2008.155,"v":4.6},{"t":2008.17,"v":5.2},{"t":2008.185,"v":6.4},{"t":2008.20,"v":7.2},{"t":2008.215,"v":7.5},{"t":2008.225,"v":8.0},{"t":2008.235,"v":7.1},{"t":2008.25,"v":7.5},{"t":2008.265,"v":6.3},{"t":2008.28,"v":6.9},{"t":2008.295,"v":6.0},{"t":2008.31,"v":6.4},{"t":2008.325,"v":5.2},{"t":2008.34,"v":5.6},{"t":2008.355,"v":4.4},{"t":2008.37,"v":4.8},{"t":2008.385,"v":3.6},{"t":2008.40,"v":4.1},{"t":2008.415,"v":3.3},{"t":2008.43,"v":3.7},{"t":2008.445,"v":3.4},{"t":2008.46,"v":4.3},{"t":2008.475,"v":4.9},{"t":2008.49,"v":4.6},{"t":2008.50,"v":5.65},{"t":2008.515,"v":4.7},{"t":2008.53,"v":5.3},{"t":2008.545,"v":4.6},{"t":2008.56,"v":5.4},{"t":2008.575,"v":4.5},{"t":2008.59,"v":5.1},{"t":2008.605,"v":4.6},{"t":2008.62,"v":5.5},{"t":2008.635,"v":4.7},{"t":2008.65,"v":5.3},{"t":2008.665,"v":4.4},{"t":2008.68,"v":4.3},{"t":2008.695,"v":5.4},{"t":2008.71,"v":8.1},{"t":2008.73,"v":7.8},{"t":2008.75,"v":9.1},{"t":2008.765,"v":10.5},{"t":2008.78,"v":12.2},{"t":2008.79,"v":13.4},{"t":2008.80,"v":11.5},{"t":2008.81,"v":13.0},{"t":2008.825,"v":13.5},{"t":2008.835,"v":9.4},{"t":2008.85,"v":10.2},{"t":2008.865,"v":9.6},{"t":2008.88,"v":11.7},{"t":2008.89,"v":12.5},{"t":2008.905,"v":10.8},{"t":2008.92,"v":12.0},{"t":2008.935,"v":12.6},{"t":2008.95,"v":11.2},{"t":2008.965,"v":11.1},{"t":2008.98,"v":12.4},{"t":2008.995,"v":10.9},{"t":2009.01,"v":11.8},{"t":2009.025,"v":10.6},{"t":2009.04,"v":11.0},{"t":2009.05,"v":10.0},{"t":2009.065,"v":10.2},{"t":2009.08,"v":9.3},{"t":2009.095,"v":8.9},{"t":2009.11,"v":8.0},{"t":2009.125,"v":7.5},{"t":2009.14,"v":7.4},{"t":2009.15,"v":6.2},{"t":2009.165,"v":6.5},{"t":2009.18,"v":5.8},{"t":2009.195,"v":5.9},{"t":2009.21,"v":5.2},{"t":2009.225,"v":5.5},{"t":2009.24,"v":4.6},{"t":2009.255,"v":5.2},{"t":2009.27,"v":3.9},{"t":2009.285,"v":4.4},{"t":2009.30,"v":3.0},{"t":2009.315,"v":4.0},{"t":2009.33,"v":2.9},{"t":2009.345,"v":3.8},{"t":2009.36,"v":3.1},{"t":2009.375,"v":4.2},{"t":2009.39,"v":3.2},{"t":2009.405,"v":4.4},{"t":2009.42,"v":3.6},{"t":2009.43,"v":5.85},{"t":2009.44,"v":3.4},{"t":2009.455,"v":4.4},{"t":2009.47,"v":3.0},{"t":2009.485,"v":4.5},{"t":2009.50,"v":2.9},{"t":2009.515,"v":4.2},{"t":2009.53,"v":3.3},{"t":2009.545,"v":4.3},{"t":2009.56,"v":2.6},{"t":2009.575,"v":2.5},{"t":2009.59,"v":4.0},{"t":2009.605,"v":3.0},{"t":2009.62,"v":4.5},{"t":2009.635,"v":2.8},{"t":2009.65,"v":4.6},{"t":2009.665,"v":3.2},{"t":2009.68,"v":4.4},{"t":2009.695,"v":2.8},{"t":2009.71,"v":4.6},{"t":2009.725,"v":3.0},{"t":2009.74,"v":4.3},{"t":2009.755,"v":2.7},{"t":2009.77,"v":3.6},{"t":2009.785,"v":2.6},{"t":2009.80,"v":3.9},{"t":2009.815,"v":2.8},{"t":2009.83,"v":3.7},{"t":2009.845,"v":2.5},{"t":2009.86,"v":3.3},{"t":2009.875,"v":2.6},{"t":2009.89,"v":3.7},{"t":2009.905,"v":2.7},{"t":2009.92,"v":3.5},{"t":2009.935,"v":2.6},{"t":2009.95,"v":3.9},{"t":2009.965,"v":2.7},{"t":2009.98,"v":4.0},{"t":2009.995,"v":4.9}
]
},
"layer":[
 {"data":{"name":"b"},"mark":{"type":"rect","fill":"#d9d9d9","stroke":"#a6a6a6","strokeWidth":1},
  "encoding":{
   "x":{"field":"a","type":"quantitative","scale":{"domain":[1987,2010],"nice":false,"zero":false},"axis":{"orient":"bottom","values":[1988,1990,1992,1994,1996,1998,2000,2002,2004,2006,2008,2010],"format":"d","labelPadding":22,"title":null}},
   "x2":{"field":"e"},
   "y":{"datum":0,"type":"quantitative","scale":{"domain":[0,15],"nice":false,"zero":false},"axis":{"orient":"left","values":[0,5,10,15],"format":"d","labelPadding":20,"title":"Noise (bps)","titlePadding":26}},
   "y2":{"datum":15}
  }},
 {"data":{"name":"s"},"mark":{"type":"line","color":"#0000ff","strokeWidth":2.4,"strokeJoin":"round"},
  "encoding":{"x":{"field":"t","type":"quantitative","axis":null},"y":{"field":"v","type":"quantitative","axis":null}}},
 {"data":{"name":"l"},"mark":{"type":"text","font":"Liberation Sans","fontSize":25,"align":"center","baseline":"middle","color":"#000000"},
  "encoding":{"x":{"field":"t","type":"quantitative","axis":null},"y":{"field":"v","type":"quantitative","axis":null},"text":{"field":"s"}}},
 {"data":{"name":"b"},"mark":{"type":"rect","opacity":0},
  "encoding":{
   "x":{"field":"a","type":"quantitative","axis":{"orient":"top","values":[1988,1990,1992,1994,1996,1998,2000,2002,2004,2006,2008,2010],"labels":false,"title":null}},
   "x2":{"field":"e"},
   "y":{"datum":0,"type":"quantitative","axis":{"orient":"right","values":[0,5,10,15],"labels":false,"title":null}},
   "y2":{"datum":15}
  }}
],
"resolve":{"axis":{"x":"independent","y":"independent"}}
}
